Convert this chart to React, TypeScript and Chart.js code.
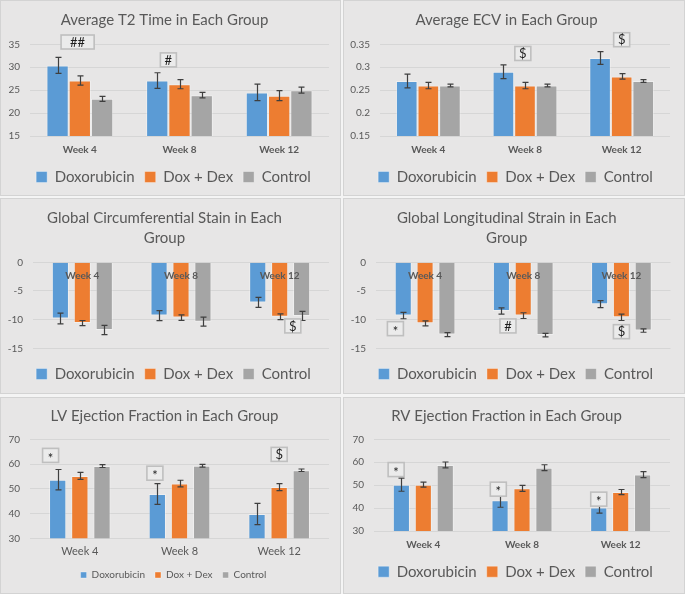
import React, { useEffect, useRef } from 'react';
import { Chart, registerables } from 'chart.js';

Chart.register(...registerables);

const FONT = 'Lato, "Open Sans", sans-serif';
const TEXT = '#595959';

const categories = ['Week 4', 'Week 8', 'Week 12'];
const seriesNames = ['Doxorubicin', 'Dox + Dex', 'Control'];
const seriesColors = ['#5B9BD5', '#ED7D31', '#A5A5A5'];

// Average T2 time
const t2Dox = [30.4, 27.1, 24.5];
const t2DoxErr = [1.75, 1.7, 1.8];
const t2DoxDex = [27.1, 26.3, 23.8];
const t2DoxDexErr = [1.0, 1.0, 1.1];
const t2Control = [23.1, 23.9, 25.0];
const t2ControlErr = [0.55, 0.6, 0.65];
const t2Marks = [
  { cat: 0, at: 0.9, value: 35.5, text: '##' },
  { cat: 1, at: 0.5, value: 31.6, text: '#' },
];

// Average ECV
const ecvDox = [0.27, 0.29, 0.32];
const ecvDoxErr = [0.015, 0.015, 0.014];
const ecvDoxDex = [0.26, 0.26, 0.28];
const ecvDoxDexErr = [0.007, 0.007, 0.006];
const ecvControl = [0.26, 0.26, 0.27];
const ecvControlErr = [0.003, 0.003, 0.003];
const ecvMarks = [
  { cat: 1, at: 0.9, value: 0.33, text: '$' },
  { cat: 2, at: 1.0, value: 0.36, text: '$' },
];

// Global circumferential strain
const gcsDox = [-9.8, -9.3, -7.0];
const gcsDoxErr = [0.93, 0.87, 0.87];
const gcsDoxDex = [-10.6, -9.65, -9.5];
const gcsDoxDexErr = [0.45, 0.47, 0.5];
const gcsControl = [-11.8, -10.35, -9.35];
const gcsControlErr = [0.8, 0.8, 0.8];
const gcsMarks = [{ cat: 2, at: 1.6, value: -11.1, text: '$' }];

// Global longitudinal strain
const glsDox = [-9.3, -8.5, -7.3];
const glsDoxErr = [0.55, 0.55, 0.6];
const glsDoxDex = [-10.65, -9.3, -9.6];
const glsDoxDexErr = [0.45, 0.5, 0.55];
const glsControl = [-12.6, -12.7, -11.9];
const glsControlErr = [0.35, 0.3, 0.3];
const glsMarks = [
  { cat: 0, at: -0.36, value: -11.57, text: '*' },
  { cat: 1, at: 0.3, value: -11.1, text: '#' },
  { cat: 2, at: 1.0, value: -12.1, text: '$' },
];

// LV ejection fraction
const lvDox = [53.7, 47.9, 39.8];
const lvDoxErr = [4.1, 4.2, 4.3];
const lvDoxDex = [55.2, 52.1, 50.7];
const lvDoxDexErr = [1.4, 1.35, 1.4];
const lvControl = [59.2, 59.3, 57.5];
const lvControlErr = [0.6, 0.55, 0.5];
const lvMarks = [
  { cat: 0, at: -0.32, value: 63.5, text: '*' },
  { cat: 1, at: -0.11, value: 56.3, text: '*' },
  { cat: 2, at: 1.0, value: 63.9, text: '$' },
];

// RV ejection fraction
const rvDox = [50.2, 43.4, 40.3];
const rvDoxErr = [2.85, 3.05, 2.5];
const rvDoxDex = [50.2, 48.6, 47.0];
const rvDoxDexErr = [1.1, 1.3, 1.1];
const rvControl = [58.8, 57.6, 54.6];
const rvControlErr = [1.3, 1.3, 1.3];
const rvMarks = [
  { cat: 0, at: -0.24, value: 56.8, text: '*' },
  { cat: 1, at: -0.08, value: 48.25, text: '*' },
  { cat: 2, at: 0, value: 43.9, text: '*' },
];

type Mark = { cat: number; at: number; value: number; text: string };

type PanelCfg = {
  title: string | string[];
  values: number[][];
  errors: number[][];
  marks: Mark[];
  yMin: number;
  yMax: number;
  yStep: number;
  left: number;
  top: number;
  width: number;
  height: number;
  plotLeft: number;
  padRight: number;
  padBottom: number;
  titleTop: number;
  titleBottom: number;
  titleLH: number;
  xAtZero: boolean;
  xHeight: number;
  xPad: number;
  xFontSize: number;
  xBold: boolean;
  legendFont: number;
  legendBox: number;
  legendPad: number;
  barPct: number;
  catPct: number;
};

const LEGEND_SHIFT = 18;
const bigLegend = { legendFont: 15, legendBox: 11, legendPad: 10 };

const panels: PanelCfg[] = [
  {
    title: 'Average T2 Time in Each Group',
    values: [t2Dox, t2DoxDex, t2Control],
    errors: [t2DoxErr, t2DoxDexErr, t2ControlErr],
    marks: t2Marks, yMin: 15, yMax: 35, yStep: 5,
    left: 0, top: 0, width: 341, height: 196, plotLeft: 30, padRight: 12, padBottom: 1.5,
    titleTop: 11, titleBottom: 15.3, titleLH: 1.2,
    xAtZero: false, xHeight: 23.5, xPad: 8, xFontSize: 10, xBold: true,
    ...bigLegend, barPct: 1, catPct: 0.67,
  },
  {
    title: 'Average ECV in Each Group',
    values: [ecvDox, ecvDoxDex, ecvControl],
    errors: [ecvDoxErr, ecvDoxDexErr, ecvControlErr],
    marks: ecvMarks, yMin: 0.15, yMax: 0.35, yStep: 0.05,
    left: 343, top: 0, width: 342, height: 196, plotLeft: 37, padRight: 15, padBottom: 1.5,
    titleTop: 11, titleBottom: 15.3, titleLH: 1.2,
    xAtZero: false, xHeight: 23.5, xPad: 8, xFontSize: 10, xBold: true,
    ...bigLegend, barPct: 1, catPct: 0.67,
  },
  {
    title: ['Global Circumferential Stain in Each', 'Group'],
    values: [gcsDox, gcsDoxDex, gcsControl],
    errors: [gcsDoxErr, gcsDoxDexErr, gcsControlErr],
    marks: gcsMarks, yMin: -15, yMax: 0, yStep: 5,
    left: 0, top: 198, width: 341, height: 196, plotLeft: 33, padRight: 12, padBottom: 2.5,
    titleTop: 10, titleBottom: 14.3, titleLH: 1.333,
    xAtZero: true, xHeight: 8.2, xPad: 7.4, xFontSize: 10, xBold: true,
    ...bigLegend, barPct: 0.78, catPct: 0.667,
  },
  {
    title: ['Global Longitudinal Strain in Each', 'Group'],
    values: [glsDox, glsDoxDex, glsControl],
    errors: [glsDoxErr, glsDoxDexErr, glsControlErr],
    marks: glsMarks, yMin: -15, yMax: 0, yStep: 5,
    left: 343, top: 198, width: 342, height: 196, plotLeft: 33, padRight: 14.5, padBottom: 2.5,
    titleTop: 10, titleBottom: 14.3, titleLH: 1.333,
    xAtZero: true, xHeight: 8.2, xPad: 7.4, xFontSize: 10, xBold: true,
    ...bigLegend, barPct: 0.78, catPct: 0.667,
  },
  {
    title: 'LV Ejection Fraction in Each Group',
    values: [lvDox, lvDoxDex, lvControl],
    errors: [lvDoxErr, lvDoxDexErr, lvControlErr],
    marks: lvMarks, yMin: 30, yMax: 70, yStep: 10,
    left: 0, top: 397, width: 341, height: 197, plotLeft: 30, padRight: 12, padBottom: 4,
    titleTop: 9.7, titleBottom: 14.6, titleLH: 1.2,
    xAtZero: false, xHeight: 21.7, xPad: 7, xFontSize: 11, xBold: false,
    legendFont: 10, legendBox: 6, legendPad: 10, barPct: 0.78, catPct: 0.667,
  },
  {
    title: 'RV Ejection Fraction in Each Group',
    values: [rvDox, rvDoxDex, rvControl],
    errors: [rvDoxErr, rvDoxDexErr, rvControlErr],
    marks: rvMarks, yMin: 30, yMax: 70, yStep: 10,
    left: 343, top: 397, width: 342, height: 197, plotLeft: 31, padRight: 15, padBottom: 4.8,
    titleTop: 9.7, titleBottom: 14.6, titleLH: 1.2,
    xAtZero: false, xHeight: 23.2, xPad: 7.7, xFontSize: 10, xBold: true,
    ...bigLegend, barPct: 0.78, catPct: 0.667,
  },
];

function errorBarPlugin(cfg: PanelCfg) {
  return {
    id: 'errorBars',
    afterDatasetsDraw(chart: any) {
      const ctx = chart.ctx;
      const ys = chart.scales.y;
      ctx.save();
      ctx.strokeStyle = '#3f3f3f';
      ctx.lineWidth = 1.2;
      cfg.errors.forEach((errs, di) => {
        const meta = chart.getDatasetMeta(di);
        meta.data.forEach((bar: any, i: number) => {
          const v = cfg.values[di][i];
          const e = errs[i];
          const x = Math.round(bar.x) + 0.5;
          const y1 = ys.getPixelForValue(v + e);
          const y2 = ys.getPixelForValue(v - e);
          ctx.beginPath();
          ctx.moveTo(x, y1);
          ctx.lineTo(x, y2);
          ctx.moveTo(x - 3, y1);
          ctx.lineTo(x + 3, y1);
          ctx.moveTo(x - 3, y2);
          ctx.lineTo(x + 3, y2);
          ctx.stroke();
        });
      });
      ctx.restore();
    },
  };
}

function markPlugin(cfg: PanelCfg) {
  return {
    id: 'sigMarks',
    afterDatasetsDraw(chart: any) {
      const ctx = chart.ctx;
      const ys = chart.scales.y;
      const m0 = chart.getDatasetMeta(0);
      const m1 = chart.getDatasetMeta(1);
      ctx.save();
      cfg.marks.forEach((mk) => {
        const x0 = m0.data[mk.cat].x;
        const pitch = m1.data[mk.cat].x - x0;
        const x = x0 + mk.at * pitch;
        const y = ys.getPixelForValue(mk.value);
        ctx.font = `13px ${FONT}`;
        const tw = ctx.measureText(mk.text).width;
        const w = mk.text.length > 1 ? tw + 18 : 16;
        const h = 14;
        ctx.fillStyle = '#ebebeb';
        ctx.fillRect(x - w / 2, y - h / 2, w, h);
        ctx.strokeStyle = '#bfbfbf';
        ctx.lineWidth = 1.6;
        ctx.strokeRect(x - w / 2, y - h / 2, w, h);
        ctx.fillStyle = '#1e1e1e';
        ctx.textAlign = 'center';
        ctx.textBaseline = 'middle';
        ctx.fillText(mk.text, x, mk.text === '*' ? y + 3 : y + 0.5);
      });
      ctx.restore();
    },
  };
}

// moves the (full-width) legend a little to the right, as in the original layout
const legendShiftPlugin = {
  id: 'legendShift',
  afterLayout(chart: any) {
    if (chart.legend) chart.legend.left += LEGEND_SHIFT;
  },
};

function Panel({ cfg }: { cfg: PanelCfg }) {
  const ref = useRef<HTMLCanvasElement>(null);
  useEffect(() => {
    if (!ref.current) return;
    const scales: any = {
      x: {
        position: cfg.xAtZero ? { y: 0 } : 'bottom',
        grid: { display: false, drawTicks: false },
        border: { display: false },
        ticks: {
          z: cfg.xAtZero ? 1 : 0,
          color: TEXT,
          padding: cfg.xPad,
          font: { family: FONT, size: cfg.xFontSize, weight: cfg.xBold ? 'bold' : 'normal' },
        },
        afterFit: cfg.xAtZero
          ? undefined
          : (s: any) => {
              s.height = cfg.xHeight;
            },
      },
      y: {
        min: cfg.yMin,
        max: cfg.yMax,
        grid: { color: '#d6d6d6', drawTicks: false },
        border: { display: false },
        ticks: {
          stepSize: cfg.yStep,
          color: TEXT,
          padding: 10,
          font: { family: FONT, size: 10 },
          callback: (v: any) => String(Math.round(Number(v) * 100) / 100),
        },
        afterFit: (s: any) => {
          s.width = cfg.plotLeft;
        },
      },
    };
    if (cfg.xAtZero) {
      // empty axis that only reserves the space between the plot and the legend
      scales.xSpace = {
        type: 'category',
        labels: categories,
        position: 'bottom',
        grid: { display: false, drawTicks: false },
        border: { display: false },
        ticks: { display: false },
        afterFit: (s: any) => {
          s.height = cfg.xHeight;
        },
      };
    }
    const chart = new Chart(ref.current, {
      type: 'bar',
      data: {
        labels: categories,
        datasets: seriesNames.map((name, i) => ({
          label: name,
          data: cfg.values[i],
          backgroundColor: seriesColors[i],
          borderColor: 'rgba(255,255,255,0.35)',
          borderWidth: 1,
          barPercentage: cfg.barPct,
          categoryPercentage: cfg.catPct,
        })),
      },
      options: {
        responsive: false,
        animation: false,
        layout: { padding: { left: 0, right: cfg.padRight, top: 0, bottom: cfg.padBottom } },
        plugins: {
          title: {
            display: true,
            text: cfg.title,
            color: TEXT,
            font: { family: FONT, size: 15, weight: 'normal', lineHeight: cfg.titleLH },
            padding: { top: cfg.titleTop, bottom: cfg.titleBottom },
          },
          legend: {
            position: 'bottom',
            labels: {
              boxWidth: cfg.legendBox,
              boxHeight: cfg.legendBox,
              color: TEXT,
              font: { family: FONT, size: cfg.legendFont },
              padding: cfg.legendPad,
            },
          },
          tooltip: { enabled: false },
        },
        scales,
      },
      plugins: [errorBarPlugin(cfg), markPlugin(cfg), legendShiftPlugin],
    } as any);
    return () => chart.destroy();
  }, [cfg]);
  return (
    <div
      style={{
        position: 'absolute',
        left: cfg.left,
        top: cfg.top,
        width: cfg.width,
        height: cfg.height,
        background: '#e7e6e6',
        boxShadow: 'inset 0 0 0 1px #d3d3d3',
      }}
    >
      <canvas ref={ref} width={cfg.width} height={cfg.height} style={{ display: 'block' }} />
    </div>
  );
}

export default function App() {
  return (
    <div
      style={{
        position: 'fixed',
        left: 0,
        top: 0,
        width: 685,
        height: 594,
        background: '#f4f4f4',
        overflow: 'hidden',
      }}
    >
      {panels.map((p, i) => (
        <Panel key={i} cfg={p} />
      ))}
    </div>
  );
}
